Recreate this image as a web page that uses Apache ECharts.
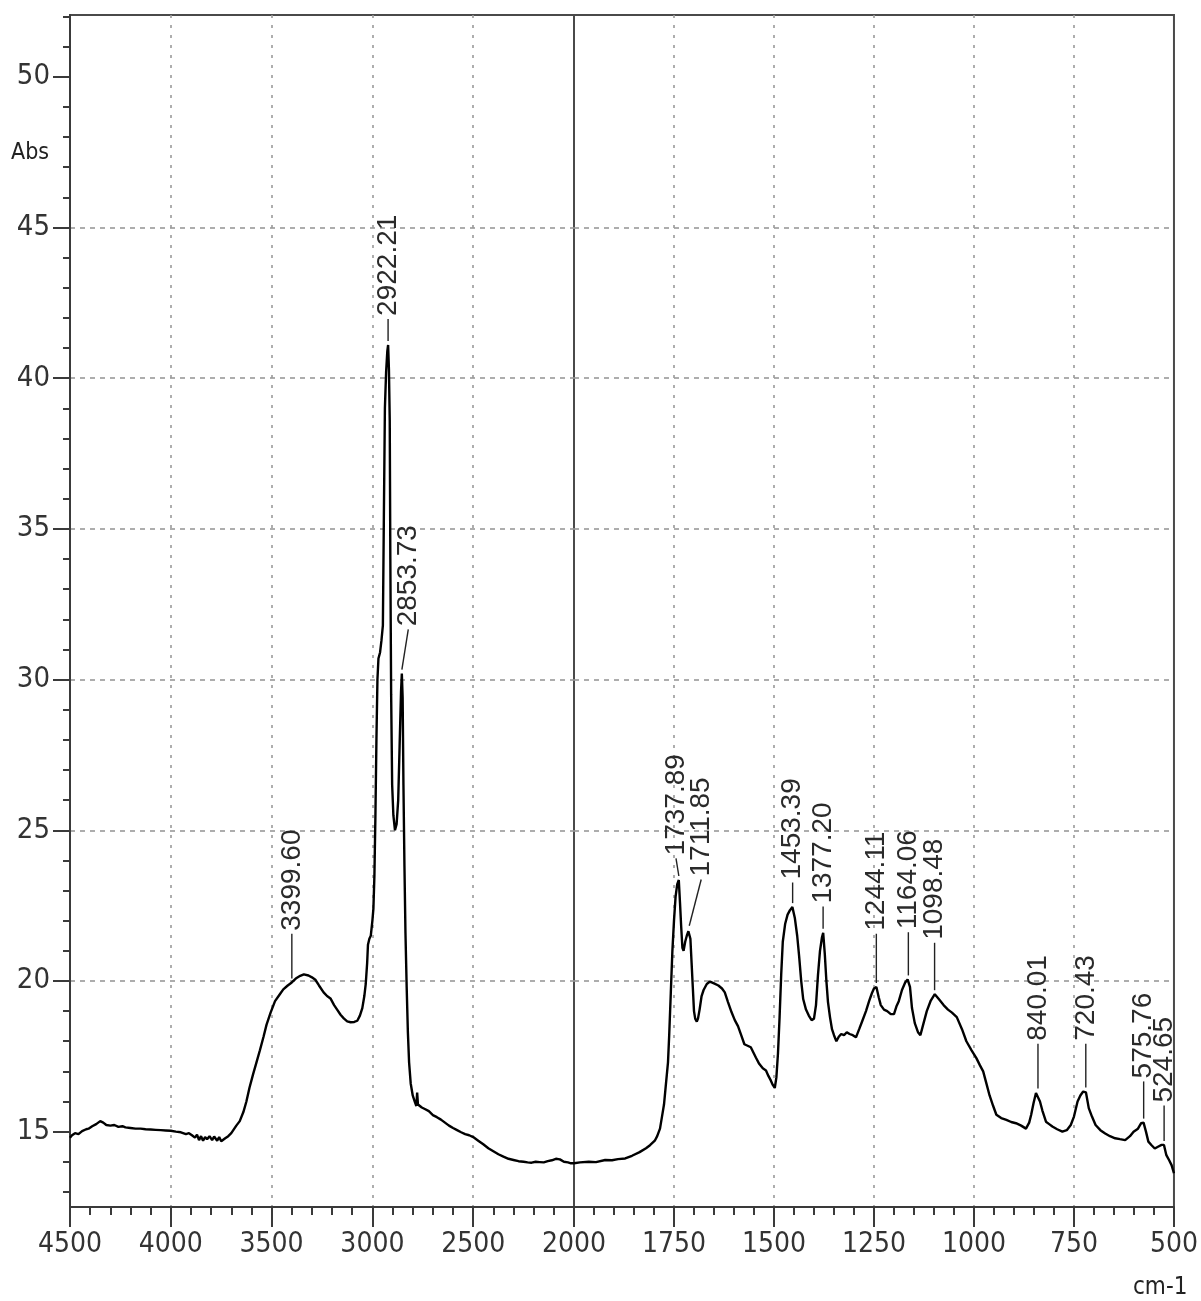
<!DOCTYPE html>
<html>
<head>
<meta charset="utf-8">
<script src="https://cdn.jsdelivr.net/npm/echarts@6.0.0/dist/echarts.min.js"></script>
<style>
html,body{margin:0;padding:0;background:#fff;}
#chart{width:1201px;height:1301px;}
</style>
</head>
<body>
<div id="chart"></div>
<script>
// ---------------- DATA ----------------
const Y_TICKS = [15, 20, 25, 30, 35, 40, 45, 50];
const X_TICKS_LEFT = [4500, 4000, 3500, 3000, 2500, 2000];
const X_TICKS_RIGHT = [1750, 1500, 1250, 1000, 750, 500];
const Y_MIN = 12.5, Y_MAX = 52.05;
const X_BREAK = 2000;

// spectrum, wavenumber (cm-1) vs Abs
const SPECTRUM_HIGH = [
[4500,14.8],[4490,14.88],[4475,14.95],[4458,14.92],[4440,15.02],[4420,15.08],[4408,15.1],[4390,15.18],[4370,15.25],[4350,15.35],[4335,15.3],[4320,15.22],[4300,15.2],[4280,15.22],[4260,15.16],[4240,15.18],[4225,15.14],[4200,15.12],[4175,15.1],[4150,15.1],[4125,15.08],[4100,15.07],[4075,15.06],[4050,15.05],[4025,15.04],[4000,15.03],[3975,15.0],[3950,14.98],[3925,14.92],[3910,14.95],[3895,14.88],[3880,14.8],[3870,14.9],[3860,14.72],[3850,14.85],[3840,14.7],[3830,14.82],[3820,14.75],[3808,14.85],[3795,14.72],[3785,14.84],[3770,14.7],[3760,14.82],[3750,14.68],[3742,14.72],[3730,14.78],[3715,14.85],[3700,14.95],[3690,15.05],[3675,15.2],[3658,15.35],[3640,15.65],[3625,16.0],[3610,16.45],[3592,16.9],[3575,17.3],[3558,17.7],[3540,18.15],[3525,18.55],[3505,18.95],[3483,19.33],[3460,19.55],[3442,19.72],[3420,19.85],[3400,19.95],[3380,20.08],[3358,20.17],[3340,20.22],[3317,20.18],[3300,20.12],[3283,20.04],[3265,19.85],[3242,19.62],[3225,19.5],[3208,19.42],[3190,19.2],[3175,19.05],[3158,18.88],[3142,18.76],[3125,18.66],[3108,18.63],[3090,18.64],[3075,18.68],[3062,18.85],[3050,19.1],[3040,19.5],[3033,19.9],[3026,20.6],[3022,21.2],[3015,21.4],[3008,21.5],[3000,22.0],[2995,22.4],[2990,23.5],[2985,25.5],[2980,28.0],[2975,30.0],[2970,30.7],[2962,30.9],[2955,31.3],[2948,31.8],[2943,35.5],[2938,39.0],[2932,40.2],[2926,40.9],[2922,41.1],[2918,40.3],[2914,38.6],[2911,34.0],[2907,29.5],[2902,26.5],[2896,25.5],[2888,25.0],[2880,25.2],[2872,26.0],[2865,27.8],[2858,29.6],[2854,30.2],[2850,29.4],[2846,26.5],[2841,23.8],[2836,21.6],[2830,19.8],[2824,18.3],[2818,17.3],[2810,16.6],[2800,16.2],[2790,16.0],[2782,15.85],[2778,16.3],[2774,15.9],[2765,15.95],[2755,15.8],[2740,15.75],[2720,15.68],[2700,15.55],[2680,15.48],[2660,15.4],[2640,15.3],[2620,15.2],[2600,15.12],[2580,15.05],[2560,14.98],[2540,14.92],[2520,14.88],[2500,14.82],[2475,14.7],[2450,14.58],[2425,14.45],[2400,14.35],[2375,14.25],[2350,14.17],[2325,14.1],[2300,14.06],[2275,14.02],[2250,14.0],[2230,13.98],[2210,13.97],[2190,14.0],[2170,13.99],[2150,13.98],[2130,14.02],[2110,14.05],[2090,14.1],[2070,14.08],[2050,14.0],[2030,13.98],[2015,13.95],[2000,13.95]
];
const SPECTRUM_LOW = [
[2000,13.95],[1985,13.98],[1963,14.0],[1945,13.99],[1922,14.06],[1905,14.05],[1890,14.09],[1872,14.11],[1855,14.2],[1836,14.32],[1820,14.45],[1810,14.55],[1798,14.7],[1792,14.85],[1785,15.1],[1780,15.5],[1775,15.9],[1770,16.6],[1765,17.3],[1762,18.2],[1758,19.6],[1754,21.0],[1750,22.0],[1746,22.8],[1742,23.2],[1738,23.35],[1735,22.6],[1732,21.8],[1729,21.1],[1726,21.0],[1722,21.3],[1718,21.5],[1714,21.65],[1712,21.7],[1709,21.4],[1706,20.6],[1703,19.8],[1700,19.0],[1697,18.75],[1693,18.65],[1690,18.75],[1686,19.05],[1681,19.5],[1676,19.7],[1668,19.9],[1660,19.98],[1650,19.92],[1639,19.85],[1630,19.75],[1623,19.62],[1615,19.3],[1606,18.96],[1598,18.7],[1590,18.5],[1582,18.2],[1574,17.9],[1566,17.85],[1558,17.8],[1553,17.75],[1545,17.45],[1537,17.25],[1528,17.1],[1520,17.03],[1514,16.85],[1508,16.7],[1503,16.55],[1498,16.45],[1494,16.8],[1490,17.6],[1486,18.8],[1482,20.2],[1478,21.3],[1472,21.9],[1466,22.2],[1460,22.35],[1454,22.45],[1448,22.1],[1442,21.5],[1437,20.8],[1432,20.0],[1427,19.4],[1420,19.05],[1413,18.85],[1406,18.7],[1400,18.75],[1395,19.2],[1390,20.2],[1385,21.0],[1380,21.45],[1377,21.6],[1373,20.9],[1369,20.0],[1365,19.3],[1360,18.8],[1355,18.4],[1350,18.2],[1344,18.0],[1338,18.15],[1332,18.24],[1325,18.2],[1318,18.3],[1311,18.24],[1303,18.2],[1295,18.13],[1287,18.4],[1279,18.68],[1270,19.0],[1262,19.34],[1255,19.6],[1250,19.75],[1244,19.8],[1238,19.45],[1233,19.2],[1225,19.05],[1217,19.0],[1208,18.9],[1200,18.9],[1194,19.15],[1188,19.33],[1180,19.7],[1172,19.95],[1166,20.05],[1164,20.05],[1160,19.8],[1155,19.1],[1148,18.6],[1140,18.3],[1134,18.2],[1128,18.5],[1118,19.0],[1108,19.35],[1098,19.56],[1088,19.4],[1076,19.2],[1065,19.05],[1055,18.95],[1043,18.8],[1030,18.4],[1019,18.0],[1006,17.7],[994,17.44],[985,17.2],[977,17.0],[969,16.6],[961,16.2],[952,15.85],[944,15.56],[932,15.45],[919,15.39],[907,15.32],[895,15.28],[882,15.2],[870,15.1],[862,15.3],[857,15.56],[851,15.95],[845,16.28],[840,16.3],[835,16.0],[829,15.7],[820,15.33],[812,15.25],[804,15.17],[792,15.08],[779,15.0],[768,15.05],[758,15.22],[750,15.5],[741,16.0],[734,16.2],[727,16.33],[720,16.3],[713,15.78],[705,15.5],[696,15.22],[684,15.05],[672,14.94],[660,14.85],[647,14.78],[635,14.75],[622,14.72],[610,14.85],[601,15.0],[590,15.1],[582,15.28],[576,15.3],[570,15.0],[564,14.67],[556,14.55],[548,14.44],[540,14.5],[531,14.56],[525,14.56],[519,14.22],[512,14.05],[506,13.89],[500,13.62]
];

// peak annotations
const PEAK_WN   = [3399.60, 2922.21, 2853.73, 1737.89, 1711.85, 1453.39, 1377.20, 1244.11, 1164.06, 1098.48, 840.01, 720.43, 575.76, 524.65];
const PEAK_ABS  = [19.95, 41.1, 30.2, 23.35, 21.7, 22.45, 21.6, 19.8, 20.05, 19.56, 16.3, 16.33, 15.3, 14.56];
// where each annotation text begins (Abs) and its horizontal anchor (cm-1)
const LABEL_ABS = [21.6, 42.0, 31.7, 24.1, 23.4, 23.3, 22.5, 21.6, 21.65, 21.3, 17.95, 17.95, 16.7, 15.9];
const LABEL_WN  = [3399.60, 2922.21, 2822, 1745, 1682, 1453.39, 1377.20, 1244.11, 1164.06, 1098.48, 840.01, 720.43, 575.76, 524.65];

// ---------------- CHART ----------------
const FONT_AX = "'Liberation Sans Narrow', 'DejaVu Sans Condensed', 'Liberation Sans', sans-serif";
const FONT_LB = "'Liberation Sans', Arial, sans-serif";
const AX_COLOR = '#3a3a3a';

function peakItems(side) {
  const out = [];
  for (let i = 0; i < PEAK_WN.length; i++) {
    const high = PEAK_WN[i] >= X_BREAK;
    if ((side === 0) === high) out.push([PEAK_WN[i], PEAK_ABS[i], LABEL_WN[i], LABEL_ABS[i], i]);
  }
  return out;
}

function renderPeak(params, api) {
  const p = api.coord([api.value(0), api.value(1)]);
  const s = api.coord([api.value(2), api.value(3)]);
  const txt = PEAK_WN[api.value(4)].toFixed(2);
  return {
    type: 'group',
    children: [
      { type: 'line', shape: { x1: p[0], y1: p[1] - 4, x2: s[0], y2: s[1] + 1 },
        style: { stroke: '#222', lineWidth: 1.4 } },
      { type: 'text', x: s[0], y: s[1] - 2, rotation: Math.PI / 2,
        style: { text: txt, fontSize: 28, fontFamily: FONT_LB, fill: '#2a2a2a',
                 align: 'left', verticalAlign: 'middle' } }
    ]
  };
}

const gridStyle = { show: true, borderColor: '#4a4a4a', borderWidth: 2, backgroundColor: 'transparent' };

function xAxisCfg(gi, min, max, interval, labels) {
  return {
    gridIndex: gi, type: 'value', inverse: true, min: min, max: max, interval: interval,
    axisLine: { show: true, onZero: false, lineStyle: { color: AX_COLOR, width: 2 } },
    axisTick: { show: true, length: 20, lineStyle: { color: AX_COLOR, width: 2 } },
    minorTick: { show: true, splitNumber: 5, length: 8, lineStyle: { color: AX_COLOR, width: 2 } },
    axisLabel: { customValues: labels, margin: 24, fontSize: 28, fontFamily: FONT_AX, color: '#333',
                 formatter: function (v) { return String(v); } },
    splitLine: { show: true, showMinLine: false, showMaxLine: false,
                 lineStyle: { type: [3, 7], color: '#9a9a9a', width: 1.6 } }
  };
}

function yAxisCfg(gi, showLabels) {
  return {
    gridIndex: gi, type: 'value', min: Y_MIN, max: Y_MAX, splitNumber: 8,
    axisLine: { show: showLabels, onZero: false, lineStyle: { color: AX_COLOR, width: 2 } },
    axisTick: { show: showLabels, customValues: Y_TICKS, length: 17, lineStyle: { color: AX_COLOR, width: 2 } },
    minorTick: { show: showLabels, splitNumber: 5, length: 7, lineStyle: { color: AX_COLOR, width: 2 } },
    axisLabel: { show: showLabels, customValues: Y_TICKS, margin: 20, fontSize: 29, fontFamily: FONT_AX, color: '#333',
                 formatter: function (v) { return String(v); } },
    splitLine: { show: true, showMinLine: false, showMaxLine: false,
                 lineStyle: { type: [5, 5], color: '#9a9a9a', width: 1.6 } }
  };
}

const option = {
  backgroundColor: '#fff',
  animation: false,
  grid: [
    Object.assign({ left: 70, top: 15, width: 504, height: 1192 }, gridStyle),
    Object.assign({ left: 574, top: 15, width: 604, height: 1192 }, gridStyle)
  ],
  xAxis: [
    xAxisCfg(0, 2000, 4500, 500, X_TICKS_LEFT),
    xAxisCfg(1, 500, 2000, 250, X_TICKS_RIGHT)
  ],
  yAxis: [ yAxisCfg(0, true), yAxisCfg(1, false) ],
  graphic: [
    { type: 'text', left: 11, top: 142, style: { text: 'Abs', fontSize: 23, fontFamily: FONT_AX, fill: '#222' } },
    { type: 'text', left: 1133, top: 1276, style: { text: 'cm-1', fontSize: 24, fontFamily: FONT_AX, fill: '#222' } }
  ],
  series: [
    { type: 'line', xAxisIndex: 0, yAxisIndex: 0, data: SPECTRUM_HIGH, showSymbol: false, symbol: 'none',
      lineStyle: { color: '#000', width: 2.4 }, z: 5 },
    { type: 'line', xAxisIndex: 1, yAxisIndex: 1, data: SPECTRUM_LOW, showSymbol: false, symbol: 'none',
      lineStyle: { color: '#000', width: 2.4 }, z: 5 },
    { type: 'custom', xAxisIndex: 0, yAxisIndex: 0, data: peakItems(0), renderItem: renderPeak, clip: false, z: 6 },
    { type: 'custom', xAxisIndex: 1, yAxisIndex: 1, data: peakItems(1), renderItem: renderPeak, clip: false, z: 6 }
  ]
};

const chart = echarts.init(document.getElementById('chart'), null, { renderer: 'canvas' });
chart.setOption(option);
</script>
</body>
</html>
